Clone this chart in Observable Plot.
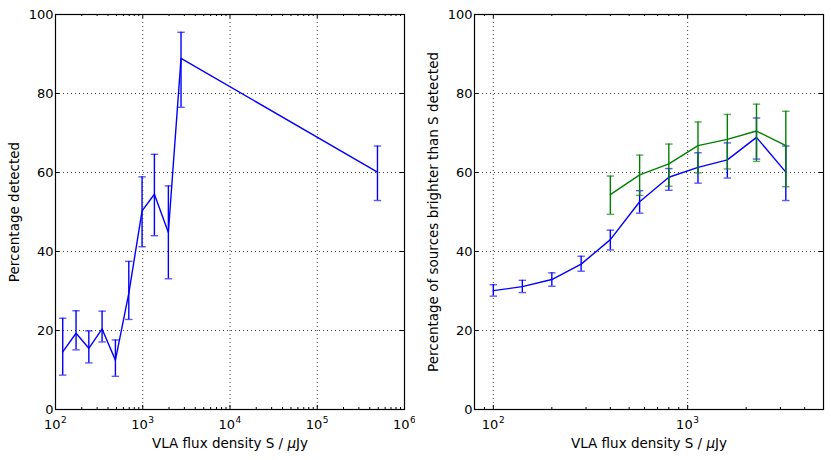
<!DOCTYPE html>
<html>
<head>
<meta charset="utf-8">
<script src="https://cdn.jsdelivr.net/npm/d3@7"></script>
<script src="https://cdn.jsdelivr.net/npm/@observablehq/plot@0.6"></script>
<style>
  html, body { margin: 0; padding: 0; background: #fff; }
  #wrap { display: flex; width: 831px; height: 460px; }
</style>
</head>
<body>
<div id="wrap"></div>
<script>
// ---- Left panel data: percentage detected per flux bin ----
const leftFlux = [121, 172, 241, 342, 486, 692, 982, 1360, 1966, 2746, 490000];
const leftPct  = [14.6, 19.3, 15.5, 20.4, 12.5, 29.4, 50.3, 54.5, 44.8, 88.9, 60.1];
const leftHi   = [23.1, 25.0, 19.9, 24.9, 17.6, 37.5, 58.9, 64.6, 56.6, 95.5, 66.7];
const leftLo   = [8.7, 15.1, 11.8, 17.1, 8.4, 22.8, 41.2, 44.0, 33.1, 76.5, 52.9];

// ---- Right panel data: cumulative percentage (brighter than S) ----
const rightFlux = [100, 141, 200, 283, 400, 566, 800, 1130, 1600, 2260, 3200];
const bluePct   = [30.1, 31.1, 32.9, 36.8, 43.0, 52.6, 58.8, 61.3, 63.2, 68.9, 60.1];
const blueHi    = [31.6, 32.7, 34.6, 38.8, 45.4, 55.4, 61.0, 65.0, 67.5, 73.8, 66.7];
const blueLo    = [28.7, 29.6, 31.2, 35.0, 40.4, 49.7, 55.5, 57.3, 58.6, 63.4, 52.9];

const greenFlux = [400, 566, 800, 1130, 1600, 2260, 3200];
const greenPct  = [54.4, 59.4, 62.2, 66.8, 68.4, 70.5, 66.8];
const greenHi   = [59.1, 64.4, 67.2, 72.8, 74.7, 77.3, 75.5];
const greenLo   = [49.4, 54.2, 56.5, 59.9, 60.9, 62.8, 56.4];

// ---- Ticks ----
const yTicks = [0, 20, 40, 60, 80, 100];
const yGrid = [20, 40, 60, 80];
const leftXMajor = [1e2, 1e3, 1e4, 1e5, 1e6];
const leftXGrid = [1e3, 1e4, 1e5];
const rightXMajor = [1e2, 1e3];
const rightXGrid = [1e2, 1e3];

const xLabel = "VLA flux density S / μJy";
const leftYLabel = "Percentage detected";
const rightYLabel = "Percentage of sources brighter than S detected";

const BLUE = "#0000ff";
const GREEN = "#008000";

const zip = (xs, ys, his, los) => xs.map((x, i) => ({x, y: ys[i], hi: his[i], lo: los[i]}));
const expOf = d => String(Math.round(Math.log10(d)));

function minorTicks(lo, hi) {
  const out = [];
  for (let e = Math.floor(Math.log10(lo)); e <= Math.ceil(Math.log10(hi)); e++) {
    for (let m = 2; m <= 9; m++) {
      const v = m * Math.pow(10, e);
      if (v > lo * 1.0001 && v < hi * 0.9999) out.push(v);
    }
  }
  return out;
}

const capSymbol = {
  draw(context, size) {
    const r = Math.sqrt(size / Math.PI);
    context.moveTo(-r, 0);
    context.lineTo(r, 0);
  }
};

function errorSeries(data, color) {
  return [
    Plot.ruleX(data, {x: "x", y1: "lo", y2: "hi", stroke: color, strokeWidth: 1.4}),
    Plot.dot(data, {x: "x", y: "hi", symbol: capSymbol, r: 3.7, stroke: color, fill: "none", strokeWidth: 1.4, strokeOpacity: 0.65}),
    Plot.dot(data, {x: "x", y: "lo", symbol: capSymbol, r: 3.7, stroke: color, fill: "none", strokeWidth: 1.4, strokeOpacity: 0.65}),
    Plot.line(data, {x: "x", y: "y", stroke: color, strokeWidth: 1.4})
  ];
}

function panel({width, marginLeft, marginRight, xDomain, xMajor, xGrid, series, yLabel}) {
  const marginTop = 14, marginBottom = 51, height = 460;
  const innerH = height - marginTop - marginBottom;
  const innerW = width - marginLeft - marginRight;
  const majorX = xMajor.filter(v => v >= xDomain[0] && v <= xDomain[1]);
  const minorX = minorTicks(xDomain[0], xDomain[1]);
  const majLen = 4, minLen = 2;
  const tickStyle = {stroke: "black", strokeWidth: 1};
  return Plot.plot({
    width, height, marginLeft, marginRight, marginTop, marginBottom,
    style: {fontFamily: "DejaVu Sans", fontSize: "13px", background: "white", color: "black", overflow: "visible"},
    x: {type: "log", domain: xDomain, axis: null},
    y: {domain: [0, 100], axis: null},
    marks: [
      // grid
      Plot.ruleX(xGrid, {x: d => d, stroke: "black", strokeOpacity: 0.75, strokeDasharray: "1,3"}),
      Plot.ruleY(yGrid, {y: d => d, stroke: "black", strokeOpacity: 0.75, strokeDasharray: "1,3"}),
      // inward ticks (bottom & top)
      Plot.ruleX(majorX, {x: d => d, insetTop: innerH - majLen, ...tickStyle}),
      Plot.ruleX(majorX, {x: d => d, insetBottom: innerH - majLen, ...tickStyle}),
      Plot.ruleX(minorX, {x: d => d, insetTop: innerH - minLen, ...tickStyle}),
      Plot.ruleX(minorX, {x: d => d, insetBottom: innerH - minLen, ...tickStyle}),
      // inward ticks (left & right)
      Plot.ruleY(yTicks, {y: d => d, insetRight: innerW - majLen, ...tickStyle}),
      Plot.ruleY(yTicks, {y: d => d, insetLeft: innerW - majLen, ...tickStyle}),
      // data
      ...series.flatMap(s => errorSeries(s.data, s.color)),
      Plot.frame({stroke: "black", strokeWidth: 1.2}),
      // x tick labels: "10" with raised exponent
      Plot.text(majorX, {x: d => d, text: () => "10", frameAnchor: "bottom", dy: 19, dx: 5, lineAnchor: "bottom", textAnchor: "end", fontSize: 13}),
      Plot.text(majorX, {x: d => d, text: expOf, frameAnchor: "bottom", dy: 13, dx: 5.6, lineAnchor: "bottom", textAnchor: "start", fontSize: 9}),
      // y tick labels
      Plot.text(yTicks, {y: d => d, text: d => String(d), frameAnchor: "left", dx: -2, textAnchor: "end", lineAnchor: "middle", fontSize: 13}),
      // axis labels
      Plot.text([xLabel], {text: d => d, frameAnchor: "bottom", dy: 34, lineAnchor: "middle", fontSize: 13.5, className: "xlabel"}),
      Plot.text([yLabel], {text: d => d, frameAnchor: "left", dx: -41, rotate: -90, lineAnchor: "middle", textAnchor: "middle", fontSize: 13.5})
    ]
  });
}

const left = panel({
  width: 415, marginLeft: 55, marginRight: 11,
  xDomain: [1e2, 1e6], xMajor: leftXMajor, xGrid: leftXGrid,
  series: [{data: zip(leftFlux, leftPct, leftHi, leftLo), color: BLUE}],
  yLabel: leftYLabel
});

const right = panel({
  width: 416, marginLeft: 59, marginRight: 8,
  xDomain: [80, 5000], xMajor: rightXMajor, xGrid: rightXGrid,
  series: [
    {data: zip(rightFlux, bluePct, blueHi, blueLo), color: BLUE},
    {data: zip(greenFlux, greenPct, greenHi, greenLo), color: GREEN}
  ],
  yLabel: rightYLabel
});

const wrap = document.getElementById("wrap");
wrap.appendChild(left);
wrap.appendChild(right);

// italicise the μ in the x-axis labels (mathtext style)
for (const t of document.querySelectorAll("text")) {
  if (t.textContent === xLabel && t.childNodes.length === 1) {
    const [a, b] = xLabel.split("μ");
    t.textContent = "";
    const s1 = document.createElementNS("http://www.w3.org/2000/svg", "tspan"); s1.textContent = a;
    const s2 = document.createElementNS("http://www.w3.org/2000/svg", "tspan"); s2.textContent = "μ"; s2.setAttribute("font-style", "italic");
    const s3 = document.createElementNS("http://www.w3.org/2000/svg", "tspan"); s3.textContent = b;
    t.append(s1, s2, s3);
  }
}
</script>
</body>
</html>
